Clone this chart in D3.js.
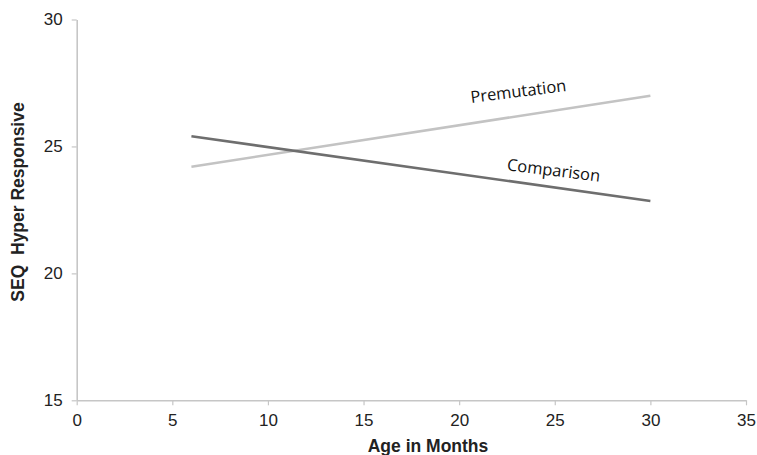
<!DOCTYPE html>
<html>
<head>
<meta charset="utf-8">
<script src="https://cdn.jsdelivr.net/npm/d3@7"></script>
<style>
  body { margin: 0; background: #fff; }
  svg { display: block; }
</style>
</head>
<body>
<div id="chart"></div>
<script>
// chart values
var groups = ["Premutation", "Comparison"];
var ages = [6, 30];
var premutationScores = [24.2, 27.0];
var comparisonScores = [25.4, 22.85];
var xTicks = [0, 5, 10, 15, 20, 25, 30, 35];
var yTicks = [15, 20, 25, 30];

var width = 757, height = 455;
var plotLeft = 76.7, plotRight = 746, plotTop = 19.5, plotBottom = 400.3;

var svg = d3.select("#chart").append("svg")
    .attr("width", width)
    .attr("height", height);

var x = d3.scaleLinear().domain([0, 35]).range([plotLeft, plotRight]);
var y = d3.scaleLinear().domain([15, 30]).range([plotBottom, plotTop]);

var axisColor = "#c6c6c6";
var sans = "Liberation Sans, Arial, sans-serif";

// x axis
var gx = svg.append("g")
    .attr("transform", "translate(0," + plotBottom + ")")
    .call(d3.axisBottom(x).tickValues(xTicks).tickSize(5).tickPadding(9).tickSizeOuter(0));
// y axis
var gy = svg.append("g")
    .attr("transform", "translate(" + plotLeft + ",0)")
    .call(d3.axisLeft(y).tickValues(yTicks).tickSize(5).tickPadding(9).tickSizeOuter(0));

[gx, gy].forEach(function(g) {
    g.select(".domain").attr("stroke", axisColor).attr("stroke-width", 1.6);
    g.selectAll(".tick line").attr("stroke", axisColor).attr("stroke-width", 1.2);
    g.selectAll(".tick text")
        .attr("fill", "#222")
        .style("font-family", sans)
        .style("font-size", "17px");
});

// axis titles
svg.append("text")
    .attr("x", 428).attr("y", 452)
    .attr("text-anchor", "middle")
    .style("font-family", sans)
    .style("font-weight", "bold")
    .style("font-size", "17.5px")
    .attr("fill", "#222")
    .text("Age in Months");

svg.append("text")
    .attr("transform", "translate(24,202) rotate(-90)")
    .attr("text-anchor", "middle")
    .style("font-family", sans)
    .style("font-weight", "bold")
    .style("font-size", "17.5px")
    .style("white-space", "pre")
    .attr("fill", "#222")
    .text("SEQ  Hyper Responsive");

// the two lines
var series = [
    { name: groups[0], values: premutationScores, color: "#c3c3c3" },
    { name: groups[1], values: comparisonScores, color: "#6e6e6e" }
];

var line = d3.line()
    .x(function(d) { return x(d[0]); })
    .y(function(d) { return y(d[1]); });

series.forEach(function(s) {
    svg.append("path")
        .datum(d3.zip(ages, s.values))
        .attr("fill", "none")
        .attr("stroke", s.color)
        .attr("stroke-width", 2.6)
        .attr("d", line);
});

// line labels
svg.append("text")
    .attr("transform", "translate(519,97) rotate(-7)")
    .attr("text-anchor", "middle")
    .style("font-family", "Open Sans, sans-serif")
    .style("font-size", "16.5px")
    .attr("fill", "#111")
    .text(groups[0]);

svg.append("text")
    .attr("transform", "translate(553,176) rotate(7)")
    .attr("text-anchor", "middle")
    .style("font-family", "Open Sans, sans-serif")
    .style("font-size", "16.5px")
    .attr("fill", "#111")
    .text(groups[1]);
</script>
</body>
</html>
